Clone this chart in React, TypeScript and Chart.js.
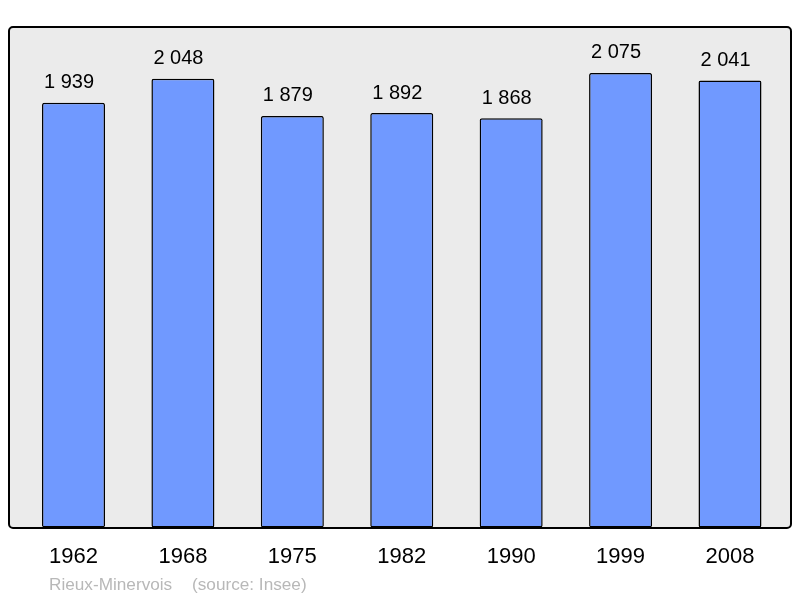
import React, { useEffect, useRef } from "react";
import { Chart, registerables } from "chart.js";

Chart.register(...registerables);

const years = ["1962", "1968", "1975", "1982", "1990", "1999", "2008"];
const population = [1939, 2048, 1879, 1892, 1868, 2075, 2041];
const placeName = "Rieux-Minervois";
const sourceText = "(source: Insee)";

const FONT = "'Liberation Sans', Arial, sans-serif";

const fmt = (v: number) => {
  const s = String(v);
  return s.replace(/\B(?=(\d{3})+(?!\d))/g, " ");
};

const panelPlugin = {
  id: "panel",
  beforeDraw(chart: any) {
    const ctx = chart.ctx;
    ctx.save();
    ctx.beginPath();
    (ctx as any).roundRect(9, 27, 782, 501, 4);
    ctx.fillStyle = "#ebebeb";
    ctx.fill();
    ctx.lineWidth = 2;
    ctx.strokeStyle = "#000000";
    ctx.stroke();
    ctx.restore();
  },
};

const labelsPlugin = {
  id: "valueLabels",
  afterDatasetsDraw(chart: any) {
    const ctx = chart.ctx;
    const meta = chart.getDatasetMeta(0);
    ctx.save();
    ctx.font = `20px ${FONT}`;
    ctx.fillStyle = "#000000";
    ctx.textAlign = "center";
    ctx.textBaseline = "alphabetic";
    meta.data.forEach((bar: any, i: number) => {
      ctx.fillText(fmt(population[i]), bar.x - 4.5, bar.y - 14.5);
    });
    ctx.restore();
  },
  afterDraw(chart: any) {
    const ctx = chart.ctx;
    ctx.save();
    ctx.font = `17.2px ${FONT}`;
    ctx.fillStyle = "#b8b8b8";
    ctx.textAlign = "left";
    ctx.textBaseline = "alphabetic";
    ctx.fillText(placeName, 49, 590);
    ctx.fillText(sourceText, 192, 590);
    ctx.restore();
  },
};

export default function App() {
  const ref = useRef<HTMLCanvasElement | null>(null);
  useEffect(() => {
    if (!ref.current) return;
    const chart = new Chart(ref.current, {
      type: "bar",
      data: {
        labels: years,
        datasets: [
          {
            data: population,
            backgroundColor: "#7099ff",
            borderColor: "#000000",
            borderWidth: 1.5,
            borderRadius: 2,
            borderSkipped: false,
            barPercentage: 0.576,
            categoryPercentage: 1,
          },
        ],
      },
      options: {
        responsive: false,
        animation: false,
        devicePixelRatio: 1,
        layout: { padding: { left: 18.8, right: 15.3, top: 27.5, bottom: 0 } },
        plugins: {
          legend: { display: false },
          tooltip: { enabled: false },
          title: { display: false },
        },
        scales: {
          y: { display: false, min: 0, max: 2282.5 },
          x: {
            grid: { display: false },
            border: { display: false },
            ticks: {
              color: "#000000",
              font: { family: FONT, size: 22 },
              padding: 8,
              maxRotation: 0,
              autoSkip: false,
            },
            afterFit: (axis: any) => {
              axis.height = 70.5;
            },
          },
        },
      },
      plugins: [panelPlugin, labelsPlugin],
    });
    return () => chart.destroy();
  }, []);
  return (
    <div style={{ position: "fixed", left: 0, top: 0, width: 800, height: 598 }}>
      <canvas ref={ref} width={800} height={598} style={{ display: "block" }} />
    </div>
  );
}
